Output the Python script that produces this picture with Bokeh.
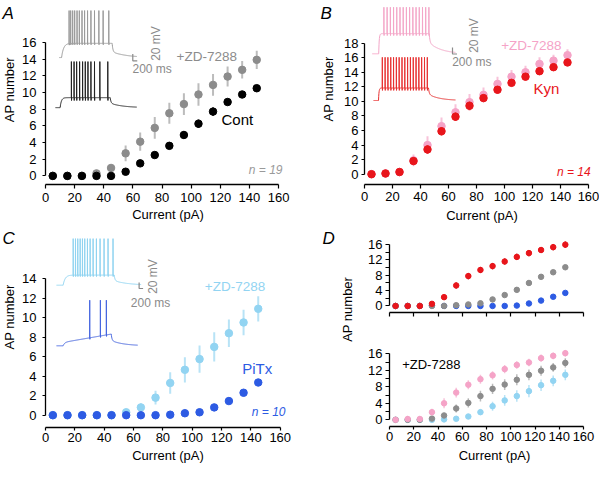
import math
from bokeh.plotting import figure
from bokeh.models import Range1d, FixedTicker, Label, CustomLabelingPolicy
from bokeh.layouts import row, column
from bokeh.embed import file_html
from bokeh.resources import INLINE

FONT = "Liberation Sans"

# ---------------- data ----------------
current = [5, 15, 25, 35, 45, 55, 65, 75, 85, 95, 105, 115, 125, 135, 145]
x_ticks = [0, 20, 40, 60, 80, 100, 120, 140, 160]
a_yticks = [0, 2, 4, 6, 8, 10, 12, 14, 16]
b_yticks = [0, 2, 4, 6, 8, 10, 12, 14, 16, 18]
c_yticks = [0, 2, 4, 6, 8, 10, 12, 14]
d_yticks = [0, 4, 8, 12, 16]
d_yminor = [2, 6, 10, 14]

a_zd = [0, 0, 0, 0.3, 0.95, 2.7, 4.1, 5.75, 7.5, 8.6, 9.75, 10.9, 11.9, 12.7, 13.9]
a_zd_err = [0, 0, 0, 0.2, 0.4, 0.95, 1.1, 1.3, 1.25, 1.3, 1.35, 1.3, 1.2, 1.05, 1.1]
a_cont = [0, 0, 0, 0, 0, 0.5, 1.5, 2.5, 3.6, 4.9, 6.25, 7.7, 8.85, 9.75, 10.5]
a_cont_err = [0, 0, 0, 0, 0.1, 0.2, 0.3, 0.35, 0.4, 0.45, 0.5, 0.5, 0.4, 0.4, 0.35]

b_zd = [0, 0.1, 0.3, 1.9, 4.0, 6.6, 8.5, 9.9, 10.9, 12.4, 13.4, 14.0, 15.15, 15.6, 16.35]
b_zd_err = [0, 0.1, 0.2, 0.8, 1.2, 1.2, 1.1, 1.1, 1.0, 1.0, 0.9, 0.9, 0.9, 0.8, 0.8]
b_kyn = [0, 0.1, 0.3, 1.8, 3.4, 5.9, 7.9, 9.4, 10.45, 11.6, 12.55, 13.4, 14.15, 14.7, 15.35]
b_kyn_err = [0, 0.1, 0.2, 0.5, 0.6, 0.6, 0.6, 0.6, 0.5, 0.5, 0.5, 0.5, 0.5, 0.5, 0.5]

c_zd = [0, 0, 0, 0, 0, 0.3, 0.8, 1.8, 3.3, 4.65, 5.75, 7.0, 8.4, 9.5, 10.9]
c_zd_err = [0, 0, 0, 0, 0, 0.3, 0.4, 0.7, 1.1, 1.3, 1.4, 1.5, 1.4, 1.3, 1.3]
c_pitx = [0, 0, 0, 0, 0, 0, 0, 0, 0.05, 0.2, 0.3, 0.8, 1.45, 2.3, 3.35]
c_pitx_err = [0, 0, 0, 0, 0, 0, 0, 0, 0.05, 0.1, 0.15, 0.2, 0.25, 0.3, 0.3]

d_top_kyn = [0, 0, 0, 0.55, 2.3, 5.35, 7.8, 9.4, 10.4, 11.6, 12.8, 13.8, 14.6, 15.35, 16.0]
d_top_kyn_err = [0, 0, 0, 0.3, 0.6, 0.8, 0.8, 0.8, 0.8, 0.8, 0.8, 0.8, 0.8, 0.8, 0.8]
d_top_cont = [0, 0, 0, 0, 0, 0.2, 0.4, 0.7, 1.7, 2.85, 4.2, 6.0, 7.6, 8.8, 10.1]
d_top_cont_err = [0, 0, 0, 0, 0, 0.2, 0.3, 0.4, 0.5, 0.6, 0.7, 0.7, 0.6, 0.6, 0.6]
d_top_pitx = [0, 0, 0, 0.15, 0, 0, 0, 0, 0, 0, 0.1, 0.65, 1.4, 2.4, 3.4]
d_top_pitx_err = [0, 0, 0, 0, 0, 0, 0, 0, 0, 0.05, 0.1, 0.2, 0.3, 0.4, 0.5]

d_bot_kyn_zd = [0, 0.2, 0.2, 1.85, 4.0, 6.6, 8.5, 9.85, 10.8, 12.3, 13.3, 13.9, 14.95, 15.5, 16.15]
d_bot_kyn_zd_err = [0, 0.1, 0.1, 0.8, 1.2, 1.2, 1.1, 1.1, 1.0, 1.0, 0.9, 0.9, 0.9, 0.8, 0.8]
d_bot_cont_zd = [0, 0, 0, 0.3, 1.05, 2.75, 4.1, 5.75, 7.5, 8.55, 9.7, 10.9, 11.9, 12.7, 13.8]
d_bot_cont_zd_err = [0, 0, 0, 0.2, 0.4, 0.95, 1.1, 1.3, 1.25, 1.3, 1.35, 1.3, 1.2, 1.05, 1.1]
d_bot_pitx_zd = [0, 0, 0, 0, 0.1, 0.25, 0.8, 1.85, 3.3, 4.7, 5.75, 6.95, 8.4, 9.45, 10.9]
d_bot_pitx_zd_err = [0, 0, 0, 0, 0, 0.3, 0.4, 0.7, 1.1, 1.3, 1.4, 1.5, 1.4, 1.3, 1.3]

# inset traces: spike times (ms from trace start)
a_zd_spikes = [200, 232, 272, 312, 360, 406, 460, 512, 572, 640, 712, 800, 886, 1000]
a_cont_spikes = [320, 374, 426, 486, 546, 600, 654, 714, 786, 894, 1054]
b_zd_spikes = [232, 296, 361, 425, 489, 554, 618, 682, 746, 811, 875, 939, 1004, 1068, 1132]
b_kyn_spikes = [174, 230, 286, 343, 399, 455, 511, 568, 624, 680, 736, 793, 849, 905, 961, 1018, 1074]
c_zd_spikes = [334, 380, 426, 474, 520, 566, 620, 674, 734, 800, 874, 954, 1034, 1134]
c_pitx_spikes = [666, 880, 1000]

# ---------------- colours ----------------
GRAY, GRAY_E = "#8c8c8c", "#bcbcbc"
BLACK, BLACK_E = "#000000", "#333333"
PINK, PINK_E = "#f5a3c7", "#f8c3da"
RED, RED_E = "#e8151b", "#ee5a5e"
LBLUE, LBLUE_E = "#92d4f2", "#b8e3f6"
BLUE, BLUE_E = "#2d5be3", "#6f8ef0"
TXT_GRAY = "#8a8a8a"

KX, KY = 0.05, 0.48  # inset px per ms, px per mV


def make_fig(ox, oy, w, h, fl, fr, ft, fb, X0, SX, Y0, SY, dy=0):
    p = figure(width=w, height=h, output_backend="svg", toolbar_location=None,
               x_range=Range1d((fl - X0) / SX, (fr - X0) / SX),
               y_range=Range1d((Y0 - fb) / SY, (Y0 - ft) / SY),
               min_border_left=fl - ox, min_border_right=ox + w - fr,
               min_border_top=ft - oy, min_border_bottom=oy + h - fb)
    p.grid.visible = False
    p.outline_line_color = None
    p.background_fill_color = "white"
    p.border_fill_color = "white"
    g = dict(fl=fl, fb=fb, X0=X0, SX=SX, Y0=Y0, SY=SY, dy=dy)
    return p, g


def side_fig(ox, oy, w, h, items, dy=0):
    p = figure(width=w, height=h, output_backend="svg", toolbar_location=None,
               x_range=Range1d(0, w), y_range=Range1d(0, h),
               x_axis_type=None, y_axis_type=None,
               min_border_left=0, min_border_right=0, min_border_top=0, min_border_bottom=0)
    p.grid.visible = False
    p.outline_line_color = None
    for (px, py, text, size, align, baseline, angle, style) in items:
        p.add_layout(Label(x=px - ox, y=oy + h - (py - dy), text=text, text_font=FONT,
                           text_font_size=size, text_color="black", text_align=align,
                           text_baseline=baseline, angle=angle, text_font_style=style))
    return p


def style_axes(p, yticks, yminor=None, xlabel="Current (pA)",
               xstand=(4, 3, 2), ystand=(3, 3), ybounds=(0, 16), xlabels=True):
    xa = p.xaxis[0]
    ya = p.yaxis[0]
    xa.ticker = FixedTicker(ticks=x_ticks)
    xa.bounds = (0, 160)
    ya.ticker = FixedTicker(ticks=yticks, minor_ticks=yminor or [])
    ya.bounds = ybounds
    for ax in (xa, ya):
        ax.axis_line_color = "black"
        ax.axis_line_width = 1.3
        ax.major_tick_line_color = "black"
        ax.major_tick_line_width = 1.2
        ax.major_tick_in = 0
        ax.minor_tick_in = 0
        ax.major_label_text_font = FONT
        ax.major_label_text_font_size = "13px"
        ax.major_label_text_color = "black"
        ax.axis_label_text_font = FONT
        ax.axis_label_text_font_size = "13px"
        ax.axis_label_text_font_style = "normal"
        ax.axis_label_text_color = "black"
    xa.major_tick_out = xstand[0]
    xa.major_label_standoff = xstand[1]
    xa.axis_label_standoff = xstand[2]
    xa.minor_tick_line_color = None
    ya.major_tick_out = ystand[0]
    ya.major_label_standoff = ystand[1]
    if yminor:
        ya.minor_tick_out = ystand[0]
        ya.minor_tick_line_color = "black"
        ya.minor_tick_line_width = 1.2
    else:
        ya.minor_tick_line_color = None
    if xlabel:
        xa.axis_label = xlabel
    if not xlabels:
        xa.major_label_policy = CustomLabelingPolicy(code="return []")
        xa.major_label_standoff = 0


def series(p, y, err, color, ecolor, size=7.5, ew=2.0):
    lo = [v - e for v, e in zip(y, err)]
    hi = [v + e for v, e in zip(y, err)]
    p.segment(x0=current, y0=lo, x1=current, y1=hi, line_color=ecolor, line_width=ew)
    p.scatter(current, y, size=size, fill_color=color, line_color=color)


def build_trace(spikes, on, off, end, plat, peak, ramp=0.0, ahp=4.0, tau_r=30.0,
                fast=0.5, tau_f=15.0, tau_s=250.0):
    def base(t):
        if t < on:
            return 0.0
        if t <= off:
            return plat * (1 - math.exp(-(t - on) / tau_r)) + ramp * (t - on)
        b = plat * (1 - math.exp(-(off - on) / tau_r)) + ramp * (off - on)
        dt = t - off
        return b * (fast * math.exp(-dt / tau_f) + (1 - fast) * math.exp(-dt / tau_s))
    times = sorted(set(list(range(0, end + 1, 4)) + [on, off]))
    T, V = [], []
    sp = sorted(spikes)
    i = 0
    skip = -1
    for t in times:
        while i < len(sp) and sp[i] <= t:
            s = sp[i]
            T += [s, s + 2, s + 5]
            V += [base(s), peak, base(s) - ahp]
            skip = s + 5
            i += 1
        if t <= skip:
            continue
        T.append(t)
        V.append(base(t))
    return T, V


def inset(p, g, anchor, color, lw=1.0, **kw):
    T, V = build_trace(**kw)
    ay = anchor[1] - g["dy"]
    xs = [(anchor[0] + t * KX - g["X0"]) / g["SX"] for t in T]
    ys = [(g["Y0"] - (ay - v * KY)) / g["SY"] for v in V]
    p.line(xs, ys, line_color=color, line_width=lw)


def scalebar(p, g, px, py0, py1, px1, color=TXT_GRAY):
    py0 -= g["dy"]
    py1 -= g["dy"]
    xs = [(px - g["X0"]) / g["SX"], (px - g["X0"]) / g["SX"], (px1 - g["X0"]) / g["SX"]]
    ys = [(g["Y0"] - py0) / g["SY"], (g["Y0"] - py1) / g["SY"], (g["Y0"] - py1) / g["SY"]]
    p.line(xs, ys, line_color=color, line_width=1.2)


def label(p, g, px, py, text, color="black", size="13px", align="left", baseline="middle",
          angle=0.0, style="normal"):
    p.add_layout(Label(x=px - g["fl"], y=g["fb"] - (py - g["dy"]), x_units="screen",
                       y_units="screen", text=text, text_color=color, text_font=FONT,
                       text_font_size=size, text_align=align, text_baseline=baseline,
                       angle=angle, text_font_style=style))


HALF = math.pi / 2
LET = "17px"

# ---------------- Panel A (top row: page = reference coordinates) ----------------
pAl = side_fig(0, 0, 19, 228, [
    (2, 4, "A", LET, "left", "top", 0.0, "italic"),
    (9, 110.5, "AP number", "13px", "center", "middle", HALF, "normal")])
pA, gA = make_fig(19, 0, 281, 228, 43, 290, 0, 186, 43, 235 / 160, 177.3, 8.44)
style_axes(pA, a_yticks, xstand=(4, 4, 2), ystand=(3, 6), ybounds=(0, 16))
series(pA, a_zd, a_zd_err, GRAY, GRAY_E)
series(pA, a_cont, a_cont_err, BLACK, BLACK_E)
inset(pA, gA, (56.7, 57.7), "#9a9a9a", spikes=a_zd_spikes, on=50, off=1070, end=1570,
      plat=30, peak=99, tau_r=40, ahp=3, fast=0.6, tau_s=300)
inset(pA, gA, (53, 108.3), "#222222", spikes=a_cont_spikes, on=95, off=1105, end=1640,
      plat=21, peak=97, tau_r=25, ahp=6, fast=0.55, tau_s=250)
scalebar(pA, gA, 131, 54, 61, 135.5)
label(pA, gA, 153, 45, "20 mV", TXT_GRAY, "12px", "center", "middle", HALF)
label(pA, gA, 130, 70, "200 ms", TXT_GRAY, "12px")
label(pA, gA, 174, 58.3, "+ZD-7288", GRAY, "13.5px")
label(pA, gA, 219, 120.7, "Cont", BLACK, "15px")
label(pA, gA, 280, 171.7, "n = 19", "#9a9a9a", "12px", "right", style="italic")

# ---------------- Panel B (x axis slightly narrower so "160" stays inside) ----------------
BSX = 224 / 160


def bx(px):
    return 364 + (px - 364) * (224 / 237.7)


pBl = side_fig(300, 0, 38, 228, [
    (320, 4, "B", LET, "left", "top", 0.0, "italic"),
    (328.3, 109.5, "AP number", "13px", "center", "middle", HALF, "normal")])
pB, gB = make_fig(338, 0, 261, 228, 364, 599, 0, 184, 364, BSX, 173.7, 7.28)
style_axes(pB, b_yticks, xstand=(4, 3, 4), ystand=(3, 3), ybounds=(0, 18))
series(pB, b_zd, b_zd_err, PINK, PINK_E)
series(pB, b_kyn, b_kyn_err, RED, RED_E)
inset(pB, gB, (371.7, 53.3), "#f4a6c8", spikes=b_zd_spikes, on=130, off=1140, end=1666,
      plat=42, peak=97, tau_r=10, ahp=4, fast=0.45, tau_s=250)
inset(pB, gB, (373, 100), "#e83030", spikes=b_kyn_spikes, on=100, off=1100, end=1640,
      plat=26, peak=90, tau_r=10, ahp=5, fast=0.5, tau_s=220)
scalebar(pB, gB, 452, 47, 53.5, 456.5)
label(pB, gB, 473, 35, "20 mV", TXT_GRAY, "12px", "center", "middle", HALF)
label(pB, gB, 451.7, 61, "200 ms", TXT_GRAY, "12px")
label(pB, gB, bx(509), 45, "+ZD-7288", PINK, "13.5px")
label(pB, gB, bx(543.3), 88.3, "Kyn", RED, "15px")
label(pB, gB, bx(604), 171.3, "n = 14", RED, "12px", "right", style="italic")

# ---------------- Panel C (bottom row drawn 12px higher than the reference) ----------------
DY = 12
pCl = side_fig(0, 228, 19, 238, [
    (2, 240, "C", LET, "left", "top", 0.0, "italic"),
    (9, 345.8, "AP number", "13px", "center", "middle", HALF, "normal")], dy=DY)
pC, gC = make_fig(19, 228, 281, 238, 44, 290, 228, 427, 44, 235.7 / 160, 426.7 - DY, 9.76, dy=DY)
style_axes(pC, c_yticks, xstand=(3, 2, 3), ystand=(3, 6), ybounds=(0, 14))
series(pC, c_zd, c_zd_err, LBLUE, LBLUE_E)
series(pC, c_pitx, c_pitx_err, BLUE, BLUE_E)
inset(pC, gC, (55, 296.7), "#8fd3f0", spikes=c_zd_spikes, on=134, off=1160, end=1700,
      plat=21, peak=97, tau_r=40, ahp=3, fast=0.55, tau_s=280)
inset(pC, gC, (55, 357.3), "#4565e0", spikes=c_pitx_spikes, on=134, off=1100, end=1634,
      plat=7, ramp=0.018, peak=95, tau_r=30, ahp=3, fast=0.55, tau_s=250)
scalebar(pC, gC, 138, 294, 300, 142)
label(pC, gC, 151.7, 288, "20 mV", TXT_GRAY, "12px", "center", "middle", HALF)
label(pC, gC, 129.3, 314, "200 ms", TXT_GRAY, "12px")
label(pC, gC, 203.3, 298.3, "+ZD-7288", LBLUE, "13.5px")
label(pC, gC, 240.7, 380, "PiTx", BLUE, "15px")
label(pC, gC, 284, 423.3, "n = 10", BLUE, "12px", "right", style="italic")

# ---------------- Panel D ----------------
pDl = side_fig(300, 228, 60, 238, [
    (322, 240, "D", LET, "left", "top", 0.0, "italic"),
    (346.7, 336.7, "AP number", "13px", "center", "middle", HALF, "normal")], dy=DY)

pDt, gDt = make_fig(360, 228, 239, 100, 389, 599, 228, 318, 389, 194 / 160, 323 - DY, 4.106, dy=DY)
style_axes(pDt, d_yticks, d_yminor, xlabel=None, xstand=(4, 0, 0), ystand=(4, 3),
           ybounds=(0, 16), xlabels=False)
series(pDt, d_top_pitx, d_top_pitx_err, BLUE, BLUE_E, size=5.5, ew=1.5)
series(pDt, d_top_cont, d_top_cont_err, GRAY, GRAY_E, size=5.5, ew=1.5)
series(pDt, d_top_kyn, d_top_kyn_err, RED, "#b01015", size=5.5, ew=1.5)

pDb, gDb = make_fig(360, 328, 239, 138, 389, 599, 328, 426, 389, 194 / 160, 431.3 - DY, 4.125, dy=DY)
style_axes(pDb, d_yticks, d_yminor, xstand=(3, 2, 4), ystand=(4, 3), ybounds=(0, 16))
series(pDb, d_bot_pitx_zd, d_bot_pitx_zd_err, LBLUE, LBLUE_E, size=5.5, ew=1.5)
series(pDb, d_bot_cont_zd, d_bot_cont_zd_err, GRAY, GRAY_E, size=5.5, ew=1.5)
series(pDb, d_bot_kyn_zd, d_bot_kyn_zd_err, PINK, PINK_E, size=5.5, ew=1.5)
label(pDb, gDb, 401.7, 376, "+ZD-7288", BLACK, "13px")

layout = column(row(pAl, pA, pBl, pB), row(pCl, pC, pDl, column(pDt, pDb)))

with open("out.html", "w") as f:
    f.write(file_html(layout, INLINE))
